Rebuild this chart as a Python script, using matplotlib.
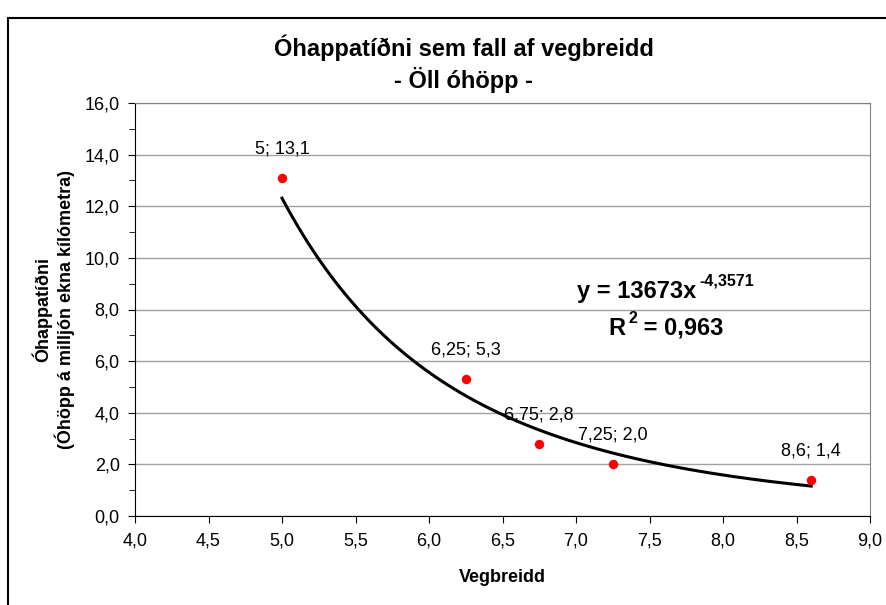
import numpy as np
import matplotlib
matplotlib.use("Agg")
import matplotlib.pyplot as plt
from matplotlib.ticker import FuncFormatter, MultipleLocator
from matplotlib.patches import Rectangle

plt.rcParams['font.family'] = ['Liberation Sans', 'DejaVu Sans']

# data
vegbreidd = [5.0, 6.25, 6.75, 7.25, 8.6]
ohappatidni = [13.1, 5.3, 2.8, 2.0, 1.4]
point_labels = ['5; 13,1', '6,25; 5,3', '6,75; 2,8', '7,25; 2,0', '8,6; 1,4']

# power trend line, coefficients as printed on the chart
coef_a = 13673
coef_b = -4.3571
coef_a_txt = '13673'
coef_b_txt = '-4,3571'
r2_txt = '0,963'

W, H = 886, 605
fig = plt.figure(figsize=(W / 100, H / 100), dpi=100)
# plot area in pixels: x 135..870, y 103..516
ax = fig.add_axes([135 / W, 1 - 516 / H, 735 / W, 413 / H])

# outer chart border
fig.patches.append(Rectangle((8 / W, -0.05), 1.2, 1 - 18 / H + 0.05, transform=fig.transFigure,
                             fill=False, edgecolor='black', linewidth=1.5))

xs = np.linspace(vegbreidd[0], vegbreidd[-1], 200)
ax.plot(xs, coef_a * xs ** coef_b, color='black', linewidth=2.2, zorder=3)
ax.scatter(vegbreidd, ohappatidni, s=46, color='#ff0000', zorder=4, linewidths=0)

for x, y, lab in zip(vegbreidd, ohappatidni, point_labels):
    ax.annotate(lab, (x, y), xytext=(0, 21), textcoords='offset points',
                ha='center', va='center', fontsize=13)

# trend equation
t1 = ax.text((577 - 135) / 735, (516 - 298) / 413, 'y = ' + coef_a_txt + 'x',
             transform=ax.transAxes, ha='left', va='baseline',
             fontsize=17, fontweight='bold')
ax.annotate(coef_b_txt, xy=(1, 1), xycoords=t1, xytext=(2.5, -1), textcoords='offset points',
            ha='left', va='center', fontsize=11.5, fontweight='bold')
t2 = ax.text((608 - 135) / 735, (516 - 335) / 413, 'R',
             transform=ax.transAxes, ha='left', va='baseline',
             fontsize=17, fontweight='bold')
t3 = ax.annotate('2', xy=(1, 1), xycoords=t2, xytext=(2.5, -1), textcoords='offset points',
                 ha='left', va='center', fontsize=11.5, fontweight='bold')
ax.annotate(' = ' + r2_txt, xy=(1, 0), xycoords=(t3, t2), xytext=(0, 0),
            textcoords='offset points', ha='left', va='bottom',
            fontsize=17, fontweight='bold')

ax.set_xlim(4, 9)
ax.set_ylim(0, 16)
ax.xaxis.set_major_locator(MultipleLocator(0.5))
ax.yaxis.set_major_locator(MultipleLocator(2))
ax.yaxis.set_minor_locator(MultipleLocator(1))
fmt = FuncFormatter(lambda v, p: ('%.1f' % v).replace('.', ','))
ax.xaxis.set_major_formatter(fmt)
ax.yaxis.set_major_formatter(fmt)
ax.tick_params(axis='both', which='major', direction='out', length=5, labelsize=13)
ax.tick_params(axis='x', which='major', pad=7)
ax.tick_params(axis='y', which='major', pad=6)
ax.tick_params(axis='y', which='minor', direction='out', length=4)
ax.grid(axis='y', which='major', color='#a0a0a0', linewidth=1)
ax.set_axisbelow(True)
for s in ax.spines.values():
    s.set_color('black')
ax.spines['top'].set_color('#808080')
ax.spines['right'].set_color('#808080')

ax.set_xlabel('Vegbreidd', fontsize=13, fontweight='bold', labelpad=14)
ax.set_ylabel('Óhappatíðni\n(Óhöpp á milljón ekna kílómetra)', fontsize=13,
              fontweight='bold', labelpad=7, linespacing=1.1)

fig.text(464 / W, 1 - 48 / H, 'Óhappatíðni sem fall af vegbreidd',
         ha='center', va='center', fontsize=17, fontweight='bold')
fig.text(464 / W, 1 - 80 / H, '- Öll óhöpp -',
         ha='center', va='center', fontsize=17, fontweight='bold')

fig.savefig('out.png', dpi=100)
